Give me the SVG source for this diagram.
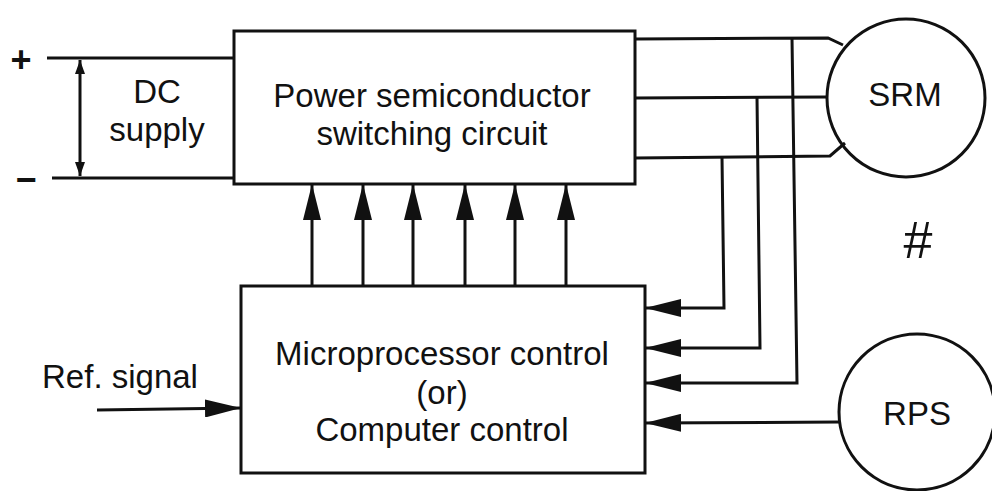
<svg xmlns="http://www.w3.org/2000/svg" width="992" height="491" viewBox="0 0 992 491">
<style>
.ln{fill:none;stroke:#111;stroke-width:3;stroke-linejoin:miter}
.bx{fill:none;stroke:#111;stroke-width:3}
.t{font-family:"Liberation Sans",Arial,sans-serif;font-size:33px;fill:#111;text-anchor:middle}
</style>
<defs>
<marker id="ah" markerWidth="36" markerHeight="18" refX="36" refY="9" orient="auto" markerUnits="userSpaceOnUse">
<path d="M0,0 L36,9 L0,18 Z" fill="#111"/>
</marker>
<marker id="sa" markerWidth="14" markerHeight="10" refX="14" refY="5" orient="auto-start-reverse" markerUnits="userSpaceOnUse">
<path d="M0,0 L14,5 L0,10 Z" fill="#111"/>
</marker>
</defs>
<rect width="992" height="491" fill="#fff"/>

<g id="dc-supply">
<text class="t" x="21" y="72" style="font-size:36px;font-weight:bold">+</text>
<text class="t" x="26" y="192" style="font-size:36px;font-weight:bold">−</text>
<text class="t" x="157" y="103">DC</text>
<text class="t" x="157" y="141">supply</text>
</g>

<g id="power">
<rect class="bx" x="234" y="31" width="401" height="153"/>
<text class="t" x="432" y="107">Power semiconductor</text>
<text class="t" x="432" y="145">switching circuit</text>
</g>

<g id="srm">
<circle class="bx" cx="906" cy="98" r="79"/>
<text class="t" x="905" y="106">SRM</text>
</g>

<g id="hash">
<text class="t" x="918" y="258" style="font-size:52px">#</text>
</g>

<g id="micro">
<rect class="bx" x="241" y="286" width="404" height="187"/>
<text class="t" x="442" y="365">Microprocessor control</text>
<text class="t" x="442" y="404">(or)</text>
<text class="t" x="442" y="441">Computer control</text>
</g>

<g id="rps">
<circle class="bx" cx="917" cy="412" r="78"/>
<text class="t" x="917" y="425">RPS</text>
</g>

<g id="ref">
<text class="t" x="120" y="388">Ref. signal</text>
</g>

<g id="connectors">
<line class="ln" x1="47" y1="58" x2="234" y2="58"/>
<line class="ln" x1="52" y1="178" x2="234" y2="178"/>
<line class="ln" x1="80" y1="60" x2="80" y2="176" stroke-width="2" marker-start="url(#sa)" marker-end="url(#sa)"/>
<polyline class="ln" points="635,39 828,38 843,45"/>
<line class="ln" x1="635" y1="98" x2="828" y2="97"/>
<polyline class="ln" points="635,158 830,156 845,143"/>
<polyline class="ln" points="722,157 724,308 645,308" marker-end="url(#ah)"/>
<polyline class="ln" points="757,97 760,348 645,348" marker-end="url(#ah)"/>
<polyline class="ln" points="792,38 797,383 645,383" marker-end="url(#ah)"/>
<line class="ln" x1="839" y1="422" x2="645" y2="423" marker-end="url(#ah)"/>
<line class="ln" x1="97" y1="410" x2="241" y2="408" marker-end="url(#ah)"/>
<line class="ln" x1="312" y1="286" x2="312" y2="184" marker-end="url(#ah)"/>
<line class="ln" x1="363" y1="286" x2="363" y2="184" marker-end="url(#ah)"/>
<line class="ln" x1="413" y1="286" x2="413" y2="184" marker-end="url(#ah)"/>
<line class="ln" x1="465" y1="286" x2="465" y2="184" marker-end="url(#ah)"/>
<line class="ln" x1="515" y1="286" x2="515" y2="184" marker-end="url(#ah)"/>
<line class="ln" x1="566" y1="286" x2="566" y2="184" marker-end="url(#ah)"/>
</g>
</svg>
